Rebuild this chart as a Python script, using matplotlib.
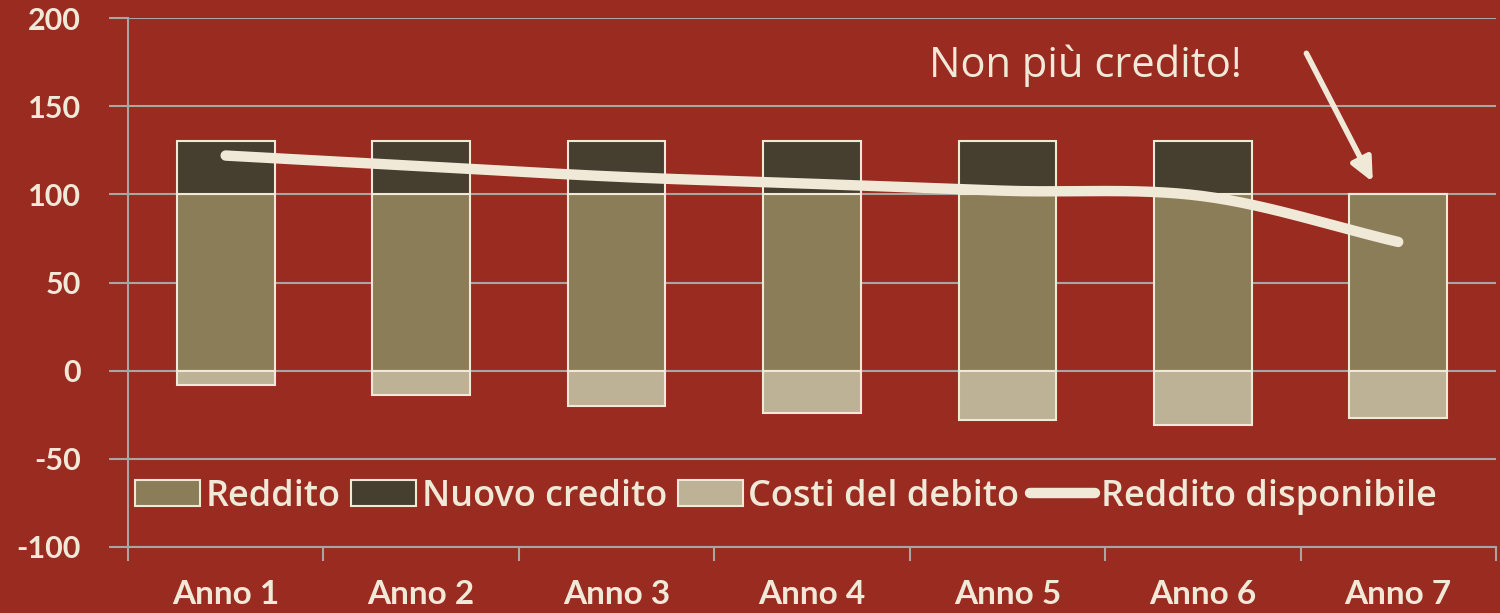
import numpy as np
import matplotlib
matplotlib.use("Agg")
import matplotlib.pyplot as plt
from matplotlib.patches import Patch
from matplotlib.lines import Line2D

plt.rcParams["axes.unicode_minus"] = False

categories = ["Anno 1", "Anno 2", "Anno 3", "Anno 4", "Anno 5", "Anno 6", "Anno 7"]
reddito = [100, 100, 100, 100, 100, 100, 100]
nuovo_credito = [30, 30, 30, 30, 30, 30, 0]
costi_debito = [-8, -14, -20, -24, -28, -31, -27]
reddito_disponibile = [122, 116, 110, 106, 102, 99, 73]

BG = "#9A2B20"
CREAM = "#F1E9D8"
GRID = "#A9A5A3"
C_RED = "#8B7D58"
C_NUO = "#463F2F"
C_COS = "#BDB295"

fig = plt.figure(figsize=(15, 6.13), dpi=100, facecolor=BG)
ax = fig.add_axes([0.0853, 0.1077, 0.9120, 0.8629])
ax.set_facecolor(BG)

x = np.arange(len(categories))
w = 0.5
ek = dict(edgecolor=CREAM, linewidth=1.5, zorder=3)
ax.bar(x, reddito, w, color=C_RED, label="Reddito", **ek)
ax.bar(x, nuovo_credito, w, bottom=reddito, color=C_NUO, label="Nuovo credito", **ek)
ax.bar(x, costi_debito, w, color=C_COS, label="Costi del debito", **ek)

# smoothed line (Catmull-Rom through the data points)
def catmull(xs, ys, n=30):
    xs = np.asarray(xs, float); ys = np.asarray(ys, float)
    px = np.concatenate([[2*xs[0]-xs[1]], xs, [2*xs[-1]-xs[-2]]])
    py = np.concatenate([[2*ys[0]-ys[1]], ys, [2*ys[-1]-ys[-2]]])
    ox, oy = [], []
    for i in range(1, len(px)-2):
        t = np.linspace(0, 1, n, endpoint=False)
        for arr, out in ((px, ox), (py, oy)):
            p0, p1, p2, p3 = arr[i-1], arr[i], arr[i+1], arr[i+2]
            out.extend(0.5*((2*p1) + (-p0+p2)*t + (2*p0-5*p1+4*p2-p3)*t**2 + (-p0+3*p1-3*p2+p3)*t**3))
    ox.append(xs[-1]); oy.append(ys[-1])
    return np.array(ox), np.array(oy)

sx, sy = catmull(x, reddito_disponibile)
ax.plot(sx, sy, color=CREAM, linewidth=7.5, solid_capstyle="round", zorder=4)

ax.set_xlim(-0.5, len(categories) - 0.5)
ax.set_ylim(-100, 200)
ax.set_yticks(np.arange(-100, 201, 50))
ax.set_xticks(np.arange(-0.5, len(categories), 1.0))
ax.set_xticklabels([])
ax.set_xticks(x, minor=True)
ax.set_xticklabels(categories, minor=True)
ax.grid(axis="y", color=GRID, linewidth=1.5, zorder=0)
ax.set_axisbelow(True)
for s in ("top", "right"):
    ax.spines[s].set_visible(False)
for s in ("left", "bottom"):
    ax.spines[s].set_color(GRID)
    ax.spines[s].set_linewidth(1.5)
ax.tick_params(axis="y", which="major", length=14, width=1.5, color=GRID, direction="out",
               labelcolor=CREAM, labelsize=22, pad=20)
ax.tick_params(axis="x", which="major", length=10, width=1.5, color=GRID, direction="out")
ax.tick_params(axis="x", which="minor", length=0, labelcolor=CREAM, labelsize=24, pad=24)
for lab in ax.get_yticklabels() + ax.get_xticklabels(minor=True):
    lab.set_fontfamily("Lato")
    lab.set_fontweight("bold")

# annotation
ax.text(4.40, 173, "Non più credito!", color=CREAM, fontsize=30, family="Open Sans",
        fontweight="normal", ha="center", va="center")
ax.annotate("", xy=(5.87, 107), xytext=(5.53, 180),
            arrowprops=dict(arrowstyle="-|>,head_length=1.4,head_width=0.65", color=CREAM,
                            lw=4, shrinkA=0, shrinkB=0))

handles = [Patch(facecolor=C_RED, edgecolor=CREAM, linewidth=1.5, label="Reddito"),
           Patch(facecolor=C_NUO, edgecolor=CREAM, linewidth=1.5, label="Nuovo credito"),
           Patch(facecolor=C_COS, edgecolor=CREAM, linewidth=1.5, label="Costi del debito"),
           Line2D([0], [0], color=CREAM, linewidth=7.5, solid_capstyle="round", label="Reddito disponibile")]
leg = ax.legend(handles=handles, loc="center left", bbox_to_anchor=(0.0, 0.095), ncol=4,
                frameon=False, handlelength=1.8, handleheight=0.75,
                handletextpad=0.15, columnspacing=0.3, borderaxespad=0, borderpad=0.2,
                prop={"family": "Open Sans", "size": 26, "weight": "semibold"})
for t in leg.get_texts():
    t.set_color(CREAM)

fig.savefig("out.png", dpi=100, facecolor=BG)
